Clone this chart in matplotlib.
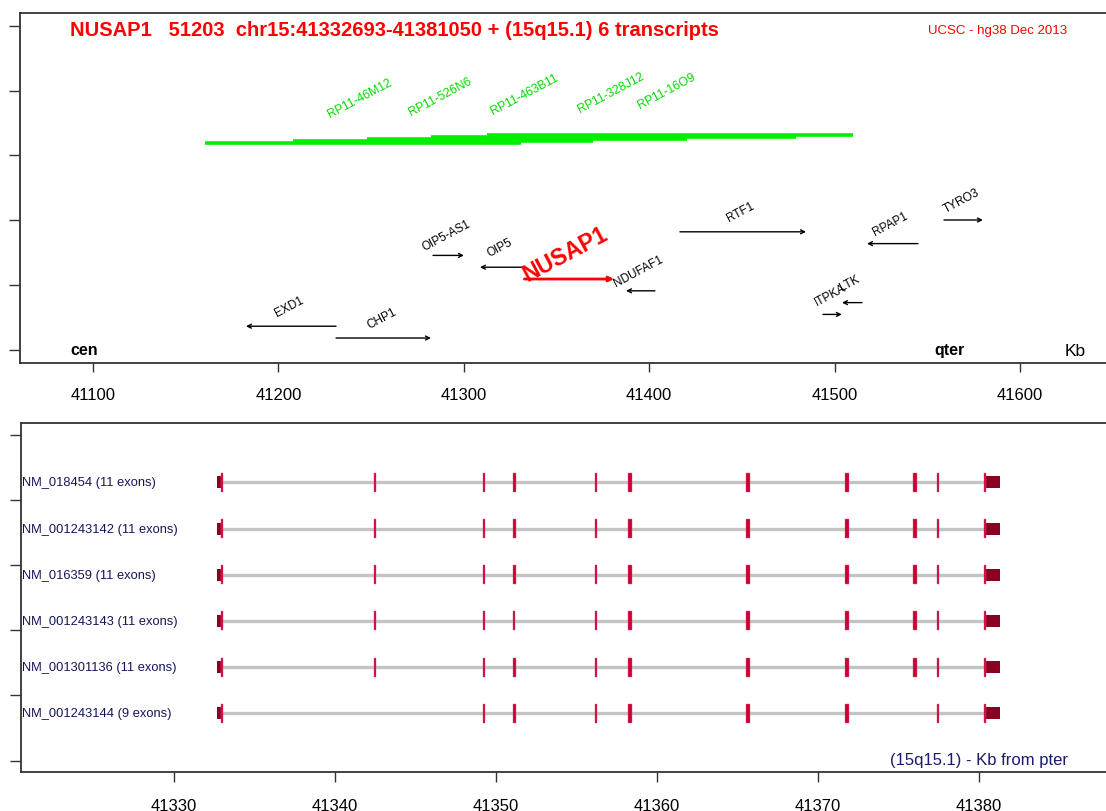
import matplotlib
matplotlib.use("Agg")
import matplotlib.pyplot as plt
from matplotlib.transforms import blended_transform_factory

plt.rcParams['font.family'] = ['Liberation Sans', 'DejaVu Sans']

# ---------------- data ----------------
title_text = "NUSAP1   51203  chr15:41332693-41381050 + (15q15.1) 6 transcripts"
source_text = "UCSC - hg38 Dec 2013"

# top panel: neighbouring genes (kb)
genes = ['EXD1', 'CHP1', 'OIP5-AS1', 'OIP5', 'NUSAP1', 'NDUFAF1', 'RTF1',
         'ITPKA', 'LTK', 'RPAP1', 'TYRO3']
gene_start = [41182.5, 41231.1, 41283.4, 41308.7, 41332.693, 41387.5, 41416.6,
              41493.7, 41504.0, 41517.5, 41559.0]
gene_end = [41231.1, 41282.3, 41300.1, 41332.5, 41381.050, 41403.1, 41484.6,
            41503.9, 41514.8, 41545.0, 41580.0]
gene_strand = ['-', '+', '+', '-', '+', '-', '+', '+', '-', '-', '+']
gene_level = [1, 0, 7, 6, 5, 4, 9, 2, 3, 8, 10]

# BAC clones (kb)
clones = ['RP11-46M12', 'RP11-526N6', 'RP11-463B11', 'RP11-328J12', 'RP11-16O9']
clone_start = [41160.4, 41207.9, 41247.8, 41282.3, 41312.5]
clone_end = [41330.9, 41369.7, 41420.4, 41479.2, 41509.9]
clone_level = [0, 1, 2, 3, 4]

top_ticks = [41100, 41200, 41300, 41400, 41500, 41600]
bottom_ticks = [41330, 41340, 41350, 41360, 41370, 41380]

# bottom panel: transcripts
transcripts = ['NM_018454 (11 exons)', 'NM_001243142 (11 exons)', 'NM_016359 (11 exons)',
               'NM_001243143 (11 exons)', 'NM_001301136 (11 exons)', 'NM_001243144 (9 exons)']
# coding exon blocks (kb) for each transcript
exons_full = [(41332.92, 41333.05), (41342.40, 41342.54), (41349.19, 41349.31),
              (41351.03, 41351.23), (41356.15, 41356.27), (41358.23, 41358.43),
              (41365.56, 41365.76), (41371.71, 41371.91), (41375.93, 41376.13),
              (41377.39, 41377.51), (41380.30, 41380.42)]
exons_t4 = [(41332.92, 41333.05), (41342.40, 41342.54), (41349.19, 41349.31),
            (41351.06, 41351.18), (41356.15, 41356.27), (41358.23, 41358.43),
            (41365.56, 41365.76), (41371.71, 41371.91), (41375.93, 41376.13),
            (41377.39, 41377.51), (41380.30, 41380.42)]
exons_t6 = [(41332.92, 41333.05), (41349.19, 41349.31),
            (41351.03, 41351.23), (41356.15, 41356.27), (41358.23, 41358.43),
            (41365.56, 41365.76), (41371.71, 41371.91),
            (41377.39, 41377.51), (41380.30, 41380.42)]
transcript_exons = [exons_full, exons_full, exons_full, exons_t4, exons_full, exons_t6]
utr5 = (41332.69, 41332.92)
utr3 = (41380.42, 41381.3)

# ---------------- figure ----------------
W, H = 1106, 812
fig = plt.figure(figsize=(W / 100, H / 100), dpi=100)

spine_col = '#333333'

def fx(px):
    return px / W

def fy(py):
    return 1 - py / H

# top axes
ax1 = fig.add_axes([fx(19.5), fy(364), 1 - fx(19.5), fy(14) - fy(364)])
ax1.set_xlim(41060.36, 41646.4)
ax1.set_ylim(-0.205, 5.196)
ax1.set_yticks([0, 1, 2, 3, 4, 5])
ax1.set_yticklabels([])
ax1.set_xticks(top_ticks)
ax1.set_xticklabels([str(t) for t in top_ticks])
ax1.tick_params(axis='x', direction='out', length=6.5, width=1, color=spine_col,
                labelsize=12, pad=11)
ax1.tick_params(axis='y', direction='out', length=8, width=1, color=spine_col)
ax1.spines['right'].set_visible(False)
for s in ['left', 'top', 'bottom']:
    ax1.spines[s].set_color(spine_col)
    ax1.spines[s].set_linewidth(1.3)

px_per_unit = 64.8  # pixels per y unit in top axes

def level_y(level):
    return (350.7 - 339.0) / px_per_unit + level * 11.8 / px_per_unit

# clones
for name, s, e, lv in zip(clones, clone_start, clone_end, clone_level):
    y = (350.7 - 144.0) / px_per_unit + lv * 2.0 / px_per_unit
    ax1.plot([s, e], [y, y], color='#00ee00', lw=2.6, solid_capstyle='butt')
    ax1.annotate(name, xy=((s + e) / 2, y), xytext=(-3, 45), textcoords='offset pixels',
                 rotation=28, ha='center', va='center', fontsize=8.8, color='#00dd00')

# genes
for name, s, e, st, lv in zip(genes, gene_start, gene_end, gene_strand, gene_level):
    y = level_y(lv)
    a, b = (s, e) if st == '+' else (e, s)
    if name == 'NUSAP1':
        ax1.annotate('', xy=(b, y), xytext=(a, y),
                     arrowprops=dict(arrowstyle='-|>', color='#ff0000', lw=2,
                                     mutation_scale=7, shrinkA=0, shrinkB=0))
        ax1.annotate(name, xy=((s + e) / 2, y), xytext=(-4, 25), textcoords='offset pixels',
                     rotation=28, ha='center', va='center', fontsize=16.5,
                     fontweight='bold', color='#ff0000')
    else:
        ax1.annotate('', xy=(b, y), xytext=(a, y),
                     arrowprops=dict(arrowstyle='->', color='black', lw=1,
                                     mutation_scale=7, shrinkA=0, shrinkB=0))
        ax1.annotate(name, xy=((s + e) / 2, y), xytext=(-2, 20), textcoords='offset pixels',
                     rotation=28, ha='center', va='center', fontsize=8.5, color='black')

fig.text(fx(70), fy(31), title_text, color='#ff0000', fontsize=14.5, fontweight='bold',
         ha='left', va='center')
fig.text(fx(1067), fy(31), source_text, color='#ff0000', fontsize=9.5, ha='right', va='center')
fig.text(fx(70), fy(351), 'cen', fontsize=11.5, fontweight='bold', ha='left', va='center')
fig.text(fx(934), fy(351), 'qter', fontsize=11.5, fontweight='bold', ha='left', va='center')
fig.text(fx(1065), fy(352), 'Kb', fontsize=12.5, ha='left', va='center')

# bottom axes
row_px = 46.2
top_px, bot_px, first_row_px = 424.0, 773.0, 483.3
ax2 = fig.add_axes([fx(20.5), fy(bot_px), 1 - fx(20.5), fy(top_px) - fy(bot_px)])
ax2.set_xlim(41320.47, 41387.89)
ax2.set_ylim((bot_px - first_row_px) / row_px, (top_px - first_row_px) / row_px)
ytick_px = [436, 501, 566, 631, 696, 762]
ax2.set_yticks([(p - first_row_px) / row_px for p in ytick_px])
ax2.set_yticklabels([])
ax2.set_xticks(bottom_ticks)
ax2.set_xticklabels([str(t) for t in bottom_ticks])
ax2.tick_params(axis='x', direction='out', length=7.5, width=1, color=spine_col,
                labelsize=12, pad=11)
ax2.tick_params(axis='y', direction='out', length=8, width=1, color=spine_col)
ax2.spines['right'].set_visible(False)
for s in ['left', 'top', 'bottom']:
    ax2.spines[s].set_color(spine_col)
    ax2.spines[s].set_linewidth(1.3)

trans = blended_transform_factory(ax2.transAxes, ax2.transData)
exon_h = 19 / row_px
utr_h = 12 / row_px
for i, (lab, exs) in enumerate(zip(transcripts, transcript_exons)):
    y = i
    ax2.plot([utr5[1], exs[-1][0]], [y, y], color='#c4c4c4', lw=2.4, zorder=1)
    ax2.broken_barh([(utr5[0], utr5[1] - utr5[0]), (utr3[0], utr3[1] - utr3[0])],
                    (y - utr_h / 2, utr_h), facecolors='#8b0022', zorder=2)
    ax2.broken_barh([(a, b - a) for a, b in exs], (y - exon_h / 2, exon_h),
                    facecolors='#cc0033', edgecolors='#e06080', linewidth=0.3, zorder=3)
    ax2.text(0.0015, y, lab, transform=trans, ha='left', va='center', fontsize=9.3,
             color='#15155a')

ax2.text(0.965, (762 - first_row_px) / row_px - 0.03, '(15q15.1) - Kb from pter',
         transform=trans, ha='right', va='center', fontsize=12, color='#1a1a70')

fig.savefig('out.png', dpi=100)
